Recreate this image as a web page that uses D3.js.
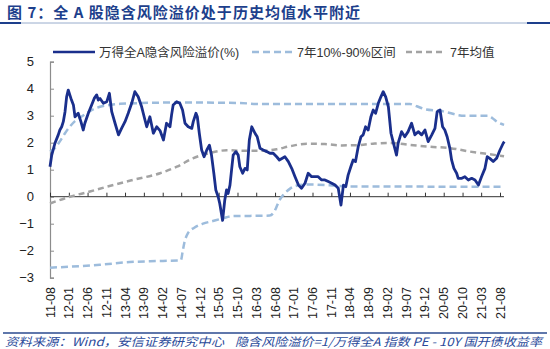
<!DOCTYPE html>
<html><head><meta charset="utf-8">
<script src="https://cdn.jsdelivr.net/npm/d3@7"></script>
<style>
html,body{margin:0;padding:0;background:#fff;}
svg{display:block;}
</style></head>
<body>
<svg id="c" width="550" height="349"></svg>
<script>
const title = "图 7：全 A 股隐含风险溢价处于历史均值水平附近";
const footerSource = "资料来源：Wind，安信证券研究中心";
const footerNote = "隐含风险溢价=1/万得全A 指数 PE - 10Y 国开债收益率";
const seriesNames = ["万得全A隐含风险溢价(%)", "7年10%-90%区间", "7年均值"];
const xTickLabels = ["11-08","12-01","12-06","12-11","13-04","13-09","14-02","14-07","14-12","15-05","15-10","16-03","16-08","17-01","17-06","17-11","18-04","18-09","19-02","19-07","19-12","20-05","20-10","21-03","21-08"];
const yTicks = [-3,-2,-1,0,1,2,3,4,5];

const riskPremium = [
["2011-08-01",1.11],["2011-08-15",1.54],["2011-09-10",1.98],["2011-10-07",2.29],["2011-10-20",2.47],
["2011-11-04",2.59],["2011-11-17",2.78],["2011-12-01",3.15],["2011-12-14",3.70],["2011-12-27",3.95],
["2012-01-18",3.64],["2012-02-07",3.40],["2012-02-20",2.96],["2012-03-17",3.09],["2012-04-08",2.78],
["2012-04-27",2.47],["2012-05-10",2.72],["2012-06-07",3.09],["2012-07-04",3.40],["2012-07-25",3.64],
["2012-08-14",3.77],["2012-08-27",3.58],["2012-09-10",3.64],["2012-10-07",3.46],["2012-11-04",3.52],
["2012-11-25",3.83],["2012-12-14",3.15],["2013-01-10",2.72],["2013-02-07",2.29],["2013-03-04",2.53],
["2013-04-01",2.78],["2013-04-27",3.09],["2013-05-25",3.46],["2013-06-20",3.89],["2013-07-17",3.70],
["2013-08-14",3.33],["2013-09-10",2.84],["2013-09-24",2.59],["2013-10-20",2.96],["2013-11-17",2.35],
["2013-12-14",2.59],["2014-01-10",2.45],["2014-02-07",2.10],["2014-03-04",2.72],["2014-04-01",2.59],
["2014-04-14",3.03],["2014-04-27",3.40],["2014-05-25",3.52],["2014-06-20",3.46],["2014-07-12",3.21],
["2014-08-01",2.72],["2014-08-27",2.59],["2014-09-25",2.53],["2014-10-07",2.78],["2014-10-29",3.09],
["2014-11-09",2.96],["2014-11-25",2.35],["2014-12-14",1.73],["2015-01-03",1.48],["2015-01-25",1.73],
["2015-02-15",1.91],["2015-03-04",1.54],["2015-03-23",0.87],["2015-04-08",0.25],["2015-04-27",0.00],
["2015-05-10",-0.25],["2015-06-02",-0.88],["2015-06-20",-0.12],["2015-07-04",0.25],["2015-07-17",0.12],
["2015-08-01",0.43],["2015-08-14",0.99],["2015-08-27",1.54],["2015-09-18",1.67],["2015-10-07",1.54],
["2015-10-20",1.11],["2015-11-12",0.87],["2015-12-01",1.05],["2015-12-19",0.99],["2016-01-05",2.10],
["2016-01-25",2.59],["2016-02-20",2.35],["2016-03-09",2.22],["2016-04-01",1.79],["2016-04-27",1.73],
["2016-05-25",1.67],["2016-06-20",1.61],["2016-07-17",1.61],["2016-08-14",1.48],["2016-09-05",1.36],
["2016-10-20",1.48],["2016-11-17",1.30],["2016-12-14",1.05],["2017-01-10",0.74],["2017-02-07",0.43],
["2017-03-04",0.31],["2017-04-01",0.50],["2017-04-27",0.87],["2017-05-25",0.74],["2017-06-20",0.74],
["2017-07-17",0.74],["2017-08-14",0.62],["2017-09-10",0.62],["2017-10-07",0.56],["2017-11-04",0.50],
["2017-12-01",0.43],["2017-12-27",0.31],["2018-01-18",-0.31],["2018-02-07",0.43],["2018-02-26",0.37],
["2018-03-17",0.80],["2018-04-08",1.11],["2018-04-27",1.36],["2018-05-16",1.30],["2018-06-07",1.85],
["2018-06-29",2.22],["2018-07-17",2.29],["2018-08-06",2.59],["2018-08-27",2.47],["2018-09-18",2.96],
["2018-10-07",3.21],["2018-10-26",3.09],["2018-11-17",3.46],["2018-12-08",3.70],["2018-12-27",3.89],
["2019-01-16",3.70],["2019-02-07",3.33],["2019-02-28",2.35],["2019-03-17",2.04],["2019-04-14",1.54],
["2019-04-27",1.98],["2019-05-25",2.41],["2019-06-20",2.22],["2019-07-17",2.41],["2019-08-14",2.72],
["2019-09-10",2.29],["2019-10-07",2.41],["2019-11-04",2.29],["2019-12-01",2.47],["2019-12-27",2.04],
["2020-01-25",2.29],["2020-02-20",2.53],["2020-03-09",3.15],["2020-04-01",3.21],["2020-04-22",2.59],
["2020-05-10",2.47],["2020-05-29",2.22],["2020-06-20",1.79],["2020-07-04",1.36],["2020-07-23",1.05],
["2020-08-14",0.87],["2020-08-27",0.68],["2020-09-25",0.68],["2020-10-20",0.74],["2020-11-17",0.62],
["2020-12-14",0.68],["2021-01-10",0.62],["2021-02-07",0.43],["2021-03-04",0.74],["2021-04-01",1.05],
["2021-04-19",1.48],["2021-05-10",1.42],["2021-06-07",1.30],["2021-07-04",1.42],["2021-08-01",1.73],
["2021-08-27",1.98],["2021-09-05",2.04]
];

const band90 = [
["2011-08-01",1.67],["2011-09-10",1.80],["2011-10-20",2.05],["2011-12-01",2.35],["2012-01-10",2.60],
["2012-02-20",2.80],["2012-04-01",2.93],["2012-05-10",3.05],["2012-06-20",3.17],["2012-08-01",3.27],
["2012-09-10",3.33],["2012-12-01",3.40],["2013-02-20",3.44],["2014-06-20",3.49],["2015-10-20",3.47],
["2016-04-01",3.43],["2019-08-01",3.43],["2019-09-26",3.35],["2019-12-01",3.24],["2020-04-01",3.18],
["2020-06-20",3.10],["2020-08-16",3.03],["2020-10-20",3.00],["2021-04-25",3.00],["2021-06-04",2.90],
["2021-07-06",2.78],["2021-09-03",2.66]
];

const band10 = [
["2011-08-01",-2.63],["2012-09-10",-2.52],["2013-05-10",-2.42],["2013-10-20",-2.39],["2014-06-28",-2.36],
["2014-07-14",-2.00],["2014-07-28",-1.68],["2014-08-25",-1.35],["2014-10-15",-1.15],["2014-12-25",-1.00],
["2015-03-15",-0.90],["2015-06-05",-0.80],["2015-08-25",-0.72],["2016-06-20",-0.70],["2016-08-01",-0.50],
["2016-09-03",-0.15],["2016-10-13",0.10],["2016-12-01",0.30],["2017-02-20",0.43],["2017-05-10",0.45],
["2017-10-20",0.42],["2018-04-01",0.38],["2021-09-03",0.37]
];

const mean7y = [
["2011-08-01",-0.25],["2012-01-10",0.00],["2012-06-20",0.19],["2012-11-06",0.37],["2013-06-04",0.62],
["2014-01-10",0.87],["2014-05-27",1.11],["2014-10-04",1.42],["2015-02-20",1.62],["2015-07-06",1.72],
["2015-11-14",1.70],["2016-04-25",1.70],["2016-08-16",1.76],["2016-12-01",1.87],["2017-04-16",1.96],
["2017-09-10",1.95],["2018-01-26",1.90],["2018-06-04",1.91],["2018-10-20",1.97],["2019-02-20",1.99],
["2019-08-01",1.92],["2020-01-10",1.85],["2020-06-20",1.80],["2020-12-01",1.67],["2021-05-10",1.57],
["2021-09-03",1.50]
];

const svg = d3.select("#c");
const parse = d3.timeParse("%Y-%m-%d");
const parseTick = d3.timeParse("%y-%m");

const x = d3.scaleTime().domain([parse("2011-08-01"), parse("2021-08-01")]).range([50, 500]);
const y = d3.scaleLinear().domain([-3, 5]).range([277.7, 61.7]);

const FONT = "Arial, 'Liberation Sans', 'Noto Sans CJK SC', sans-serif";

// Title
svg.append("text").attr("x", 7).attr("y", 17.5)
  .attr("font-family", "'Noto Sans CJK SC', sans-serif").attr("font-weight", "bold")
  .attr("font-size", 15).attr("fill", "#1d3f8c")
  .attr("textLength", 353).attr("lengthAdjust", "spacing")
  .text(title);
svg.append("line").attr("x1", 0).attr("x2", 550).attr("y1", 23).attr("y2", 23)
  .attr("stroke", "#7f97bf").attr("stroke-width", 0.8);
svg.append("line").attr("x1", 0).attr("x2", 21).attr("y1", 23).attr("y2", 23)
  .attr("stroke", "#1d3f8c").attr("stroke-width", 2);
svg.append("line").attr("x1", 527).attr("x2", 550).attr("y1", 23).attr("y2", 23)
  .attr("stroke", "#1d3f8c").attr("stroke-width", 2);

// Legend
const legend = [
  {name: seriesNames[0], color: "#1a2f8c", dash: null, x1: 53, x2: 95, tx: 99},
  {name: seriesNames[1], color: "#9dbcdc", dash: "7,4", x1: 252, x2: 292, tx: 297},
  {name: seriesNames[2], color: "#a3a3a3", dash: "6,4", x1: 406, x2: 444, tx: 450}
];
const lg = svg.append("g");
legend.forEach(l => {
  lg.append("line").attr("x1", l.x1).attr("x2", l.x2).attr("y1", 52).attr("y2", 52)
    .attr("stroke", l.color).attr("stroke-width", 2.5).attr("stroke-dasharray", l.dash);
  lg.append("text").attr("x", l.tx).attr("y", 56.5).attr("font-family", FONT)
    .attr("font-size", 12.5).attr("fill", "#333").text(l.name);
});

// Y axis
const yAxis = d3.axisLeft(y).tickValues(yTicks).tickSize(-4).tickPadding(16).tickFormat(d3.format("d"));
const gy = svg.append("g").attr("transform", "translate(50,0)").call(yAxis);
gy.select(".domain").attr("stroke", "#8c8c8c").attr("stroke-width", 1.2);
gy.selectAll(".tick line").attr("stroke", "#8c8c8c");
gy.selectAll(".tick text").attr("font-family", FONT).attr("font-size", 13).attr("fill", "#222");

// X axis at zero
const xTickDates = xTickLabels.map(s => parseTick(s));
const xAxis = d3.axisBottom(x).tickValues(xTickDates).tickSize(-4).tickFormat("");
const gx = svg.append("g").attr("transform", `translate(0,${y(0)})`).call(xAxis);
gx.select(".domain").attr("d", `M50,0H504`).attr("stroke", "#333").attr("stroke-width", 1);
gx.selectAll(".tick line").attr("stroke", "#333");

// X labels rotated at bottom
const xl = svg.append("g");
xTickDates.forEach((d, i) => {
  xl.append("text")
    .attr("transform", `translate(${x(d) + 4.5},287) rotate(-90)`)
    .attr("text-anchor", "end").attr("font-family", FONT).attr("font-size", 12.5)
    .attr("fill", "#222").text(xTickLabels[i]);
});

// Lines
const line = d3.line().x(d => x(parse(d[0]))).y(d => y(d[1]));
const smooth = d3.line().x(d => x(parse(d[0]))).y(d => y(d[1])).curve(d3.curveMonotoneX);

svg.append("path").datum(band10).attr("d", smooth).attr("fill", "none")
  .attr("stroke", "#9dbcdc").attr("stroke-width", 2.5).attr("stroke-dasharray", "7,4");
svg.append("path").datum(band90).attr("d", smooth).attr("fill", "none")
  .attr("stroke", "#9dbcdc").attr("stroke-width", 2.5).attr("stroke-dasharray", "7,4");
svg.append("path").datum(mean7y).attr("d", smooth).attr("fill", "none")
  .attr("stroke", "#a3a3a3").attr("stroke-width", 2.5).attr("stroke-dasharray", "6,4");
svg.append("path").datum(riskPremium).attr("d", line).attr("fill", "none")
  .attr("stroke", "#1a2f8c").attr("stroke-width", 2.8).attr("stroke-linejoin", "round");

// Footer
svg.append("line").attr("x1", 3).attr("x2", 547).attr("y1", 333).attr("y2", 333)
  .attr("stroke", "#2a4a8f").attr("stroke-width", 1.5);
const FFONT = "'Noto Sans CJK SC', Arial, sans-serif";
svg.append("text").attr("x", 5).attr("y", 346)
  .attr("font-family", FFONT).attr("font-style", "italic")
  .attr("font-size", 11.5).attr("fill", "#2a4a9a")
  .attr("textLength", 219).attr("lengthAdjust", "spacingAndGlyphs")
  .text(footerSource);
svg.append("text").attr("x", 235).attr("y", 346)
  .attr("font-family", FFONT).attr("font-style", "italic")
  .attr("font-size", 11.5).attr("fill", "#2a4a9a")
  .attr("textLength", 307).attr("lengthAdjust", "spacingAndGlyphs")
  .text(footerNote);
</script>
</body></html>
